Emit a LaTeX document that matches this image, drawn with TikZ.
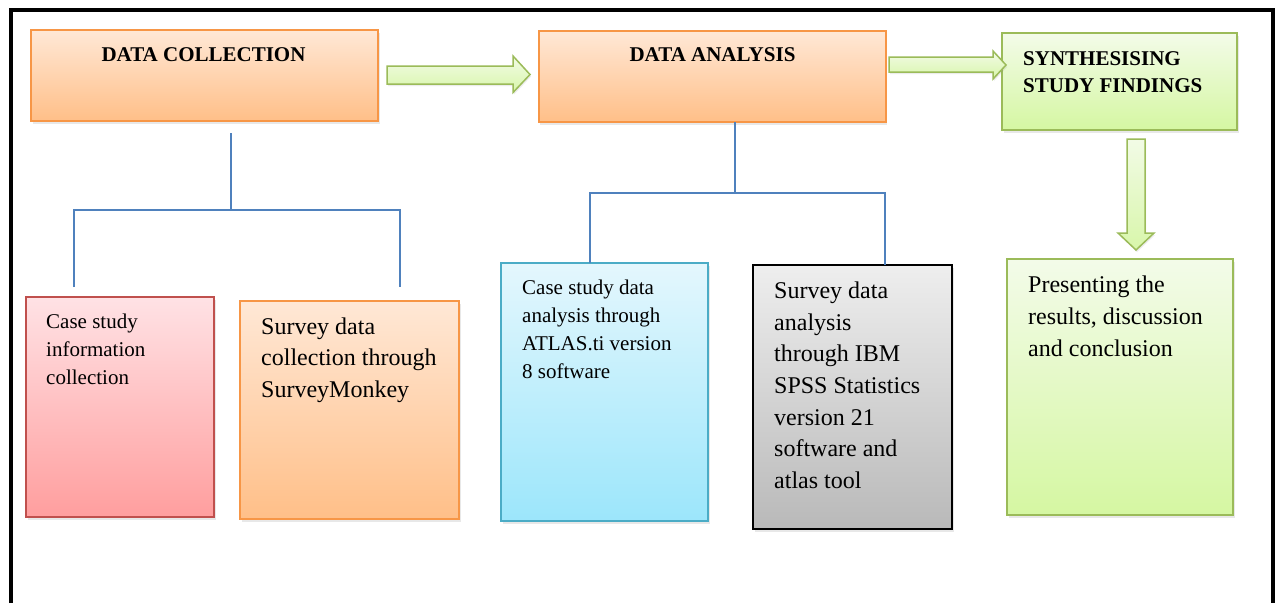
\documentclass[tikz,border=0pt]{standalone}
\usepackage{fontspec}
\setmainfont{Liberation Serif}
\usetikzlibrary{shadows}
\definecolor{orBorder}{HTML}{F79646}
\definecolor{orTop}{HTML}{FFE8D6}
\definecolor{orBot}{HTML}{FFBF88}
\definecolor{pkBorder}{HTML}{C0504D}
\definecolor{pkTop}{HTML}{FFE2E5}
\definecolor{pkBot}{HTML}{FF9E9E}
\definecolor{cyBorder}{HTML}{4BACC6}
\definecolor{cyTop}{HTML}{E4F7FD}
\definecolor{cyBot}{HTML}{9CE6FB}
\definecolor{gyTop}{HTML}{EEEEEE}
\definecolor{gyBot}{HTML}{B9B9B9}
\definecolor{grBorder}{HTML}{9BBB59}
\definecolor{grTop}{HTML}{F3FBE9}
\definecolor{grBot}{HTML}{D5F7A2}
\definecolor{arTop}{HTML}{F2FBE6}
\definecolor{arBot}{HTML}{D8F6AA}
\definecolor{connBlue}{HTML}{4F81BD}
\begin{document}
\begin{tikzpicture}[x=1pt,y=-1pt,
  box/.style={rectangle, draw, line width=1.5pt, inner sep=0pt, outer sep=0pt,
    drop shadow={shadow xshift=1.5pt, shadow yshift=-3pt, opacity=0.18}},
  orangebox/.style={box, draw=orBorder, top color=orTop, bottom color=orBot},
  pinkbox/.style={box, draw=pkBorder, top color=pkTop, bottom color=pkBot},
  cyanbox/.style={box, draw=cyBorder, top color=cyTop, bottom color=cyBot},
  graybox/.style={box, draw=black, top color=gyTop, bottom color=gyBot},
  greenbox/.style={box, draw=grBorder, top color=grTop, bottom color=grBot},
  txtS/.style={anchor=north west, inner sep=0pt, align=left, font=\fontsize{21}{28}\selectfont},
  txtL/.style={anchor=north west, inner sep=0pt, align=left, font=\fontsize{24}{31.7}\selectfont},
  title/.style={inner sep=0pt, font=\bfseries\fontsize{21}{27}\selectfont},
  conn/.style={draw=connBlue, line width=1.8pt},
  blockarrow/.style={draw=grBorder, line width=1.5pt, top color=arTop, bottom color=arBot, line join=miter,
    drop shadow={shadow xshift=1pt, shadow yshift=-2pt, opacity=0.15}},
  frame/.style={draw=black, line width=4pt}
]
\useasboundingbox (0,0) rectangle (1277,603);
\fill[white] (0,0) rectangle (1277,603);

% frame
\draw[frame] (11,603) -- (11,9.5) -- (1273,9.5) -- (1273,603);

% top row boxes
\node[orangebox, minimum width=347pt, minimum height=91pt] (dc) at (204.5,75.5) {};
\node[title, anchor=base] (dct) at (203.5,61) {DATA COLLECTION};
\node[orangebox, minimum width=347pt, minimum height=91pt] (da) at (712.3,76.5) {};
\node[title, anchor=base] (dat) at (712.5,61) {DATA ANALYSIS};
\node[greenbox, minimum width=235pt, minimum height=97pt] (ssf) at (1119.5,81.5) {};
\node[title, anchor=north west, align=left] (ssft) at (1023,46.1) {\strut SYNTHESISING\\STUDY FINDINGS};

% bottom row boxes
\node[pinkbox, minimum width=188pt, minimum height=220pt] (pk) at (120,407) {};
\node[txtS] (pkt) at (46,308.4) {\strut Case study\\information\\collection};
\node[orangebox, minimum width=219pt, minimum height=218pt] (or) at (349.5,410) {};
\node[txtL] (ort) at (261,311.8) {\strut Survey data\\collection through\\SurveyMonkey};
\node[cyanbox, minimum width=207pt, minimum height=258pt] (cy) at (604.5,392) {};
\node[txtS] (cyt) at (522,274.4) {\strut Case study data\\analysis through\\ATLAS.ti version\\8 software};
\node[graybox, minimum width=199pt, minimum height=264pt] (gy) at (852.5,397) {};
\node[txtL] (gyt) at (774,276.1) {\strut Survey data\\analysis\\through IBM\\SPSS Statistics\\version 21\\software and\\atlas tool};
\node[greenbox, minimum width=226pt, minimum height=256pt] (pr) at (1120,387) {};
\node[anchor=north west, inner sep=0pt, align=left, font=\fontsize{24}{32}\selectfont] (prt) at (1028,269.6) {\strut Presenting the\\results, discussion\\and conclusion};

% block arrows
\draw[blockarrow] (387,66) -- (513,66) -- (513,56) -- (530,74.5) -- (513,92.5) -- (513,84) -- (387,84) -- cycle;
\draw[blockarrow] (889,57) -- (993,57) -- (993,51) -- (1006,65) -- (993,79) -- (993,72) -- (889,72) -- cycle;
\draw[blockarrow] (1127,139) -- (1145,139) -- (1145,233) -- (1154,233) -- (1136,250) -- (1118,233) -- (1127,233) -- cycle;

% tree connectors: data collection
\coordinate (dctop) at (231,133);
\coordinate (dcj) at (231,210);
\coordinate (dcl) at (74,287);
\coordinate (dcr) at (400,287);
\draw[conn] (dctop) -- (dcj);
\draw[conn] (dcl) |- (dcj) -| (dcr);

% tree connectors: data analysis
\coordinate (datop) at (735,122);
\coordinate (daj) at (735,193);
\coordinate (dal) at (590,263);
\coordinate (dar) at (885,265);
\draw[conn] (datop) -- (daj);
\draw[conn] (dal) |- (daj) -| (dar);
\end{tikzpicture}
\end{document}
